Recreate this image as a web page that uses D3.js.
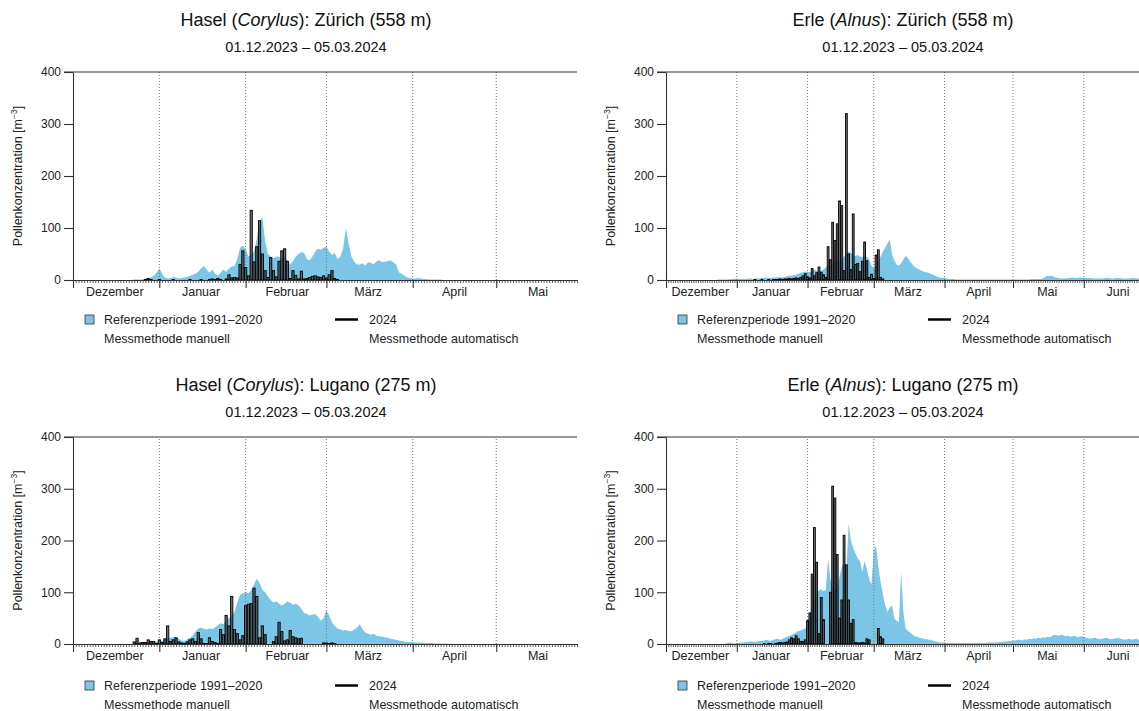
<!DOCTYPE html>
<html>
<head>
<meta charset="utf-8">
<script src="https://cdn.jsdelivr.net/npm/d3@7"></script>
<style>
  body { margin: 0; background: #fff; }
  svg { display: block; font-family: "Liberation Sans", Arial, sans-serif; }
</style>
</head>
<body>
<svg id="chart" width="1139" height="711"></svg>
<script>
// daily values, index 0 = 01.12.2023
const monthNames = ["Dezember", "Januar", "Februar", "März", "April", "Mai", "Juni"];
const yTicks = [0, 100, 200, 300, 400];

const haselZhRef = [
  0,0,0,0,0,0,0,0,0,0, 0,0,0,0,0,0,0,0,0,0, 0,0,1,1,1,1,2,3,5,8, 14,
  22,12,5,3,4,6,5,3,4,5, 6,8,10,12,16,22,27,20,14,20, 12,8,14,20,16,22,26,27,40,62, 66,
  60,45,48,55,80,112,120,75,50,45, 42,45,44,40,45,38,30,36,45,50, 54,52,40,38,45,55,60,58,62,
  64,55,48,52,40,45,60,100,70,45, 35,30,30,32,28,34,33,30,36,38, 34,35,36,38,34,30,15,12,8,5, 4,
  3,3,4,3,2,2,1,1,1,1, 1,0,0,0,0,0,0,0,0,0, 0,0,0,0,0,0,0,0,0,0,
  0,0,0,0,0,0,0,0,0,0, 0,0,0,0,0,0,0,0,0,0, 0,0,0,0,0,0,0,0,0,0
];
const haselZhBars = [
  0,0,0,0,0,0,0,0,0,0, 0,0,0,0,0,0,0,0,0,0, 0,0,0,0,0,0,1,3,1,0, 0,
  1,0,0,0,0,1,0,0,0,0, 0,1,0,0,0,1,0,0,1, 2,1,3,1,0,2,10,4,5,4,30,56,
  24,8,134,35,64,114,50,18,5,43, 18,6,36,56,60,36,3,18,9,2, 17,2,3,5,7,8,6,5,8,
  4,10,18,3,1
];

const erleZhRef = [
  0,0,0,0,0,0,0,0,0,0, 0,0,0,0,0,0,0,0,0,0, 0,0,0,1,1,1,1,1,2,2, 3,
  3,2,2,2,2,3,3,2,3,3, 3,4,4,5,4,4,5,5,6,5, 5,6,7,8,8,10,10,12,14,15, 16,
  16,15,18,20,18,16,18,20,24,28, 30,32,35,38,36,40,45,50,55,52, 48,46,48,45,44,45,44,40,28,
  22,28,35,45,55,62,70,78,50,38, 30,28,32,40,46,42,35,30,25,22, 20,18,16,15,14,12,10,8,6,5, 4,
  5,3,2,2,2,1,1,1,1,1, 1,1,1,1,1,1,1,1,1,1, 1,1,1,1,1,1,1,1,1,1,
  1,1,1,1,1,1,1,1,2,2, 2,2,2,3,6,8,7,8,6,5, 4,3,3,3,4,4,5,4,4,5, 5,
  4,4,4,4,3,3,3,3,3,4, 4,4,3,3,4,4,4,3,3,3, 3,4,4,3,3,3,3,3,3,3
];
const erleZhBars = [
  0,0,0,0,0,0,0,0,0,0, 0,0,0,0,0,0,0,0,0,0, 0,0,0,0,0,0,0,0,0,0, 0,
  0,0,0,0,0,0,0,0,1,0, 0,1,0,0,1,0,1,1,1, 2,1,2,2,3,2,3,4,3,5,8,12,
  6,4,22,8,14,25,15,10,5,64, 39,111,76,108,152,143,18,320,50,20, 127,30,32,16,36,73,37,5,11,
  3,48,58,5,2
];

const haselLuRef = [
  0,0,0,0,0,0,0,0,0,0, 0,0,0,0,0,0,0,0,0,0, 0,0,0,0,1,1,1,2,2,3, 4,
  4,6,8,10,12,13,13,10,7,6, 9,12,16,24,30,32,30,28,30,29, 32,36,40,38,44,50,55,62,80,95, 98,
  100,98,104,115,126,118,105,100,92,85, 80,82,78,75,78,82,80,76,78,75, 68,60,58,55,57,58,52,45,50,
  66,55,42,35,30,28,26,27,25,24, 28,32,38,28,22,20,18,20,16,15, 14,13,12,10,9,8,7,6,5,4, 4,
  4,3,3,3,2,2,2,2,1,1, 1,1,1,0,0,0,0,0,0,0, 0,0,0,0,0,0,0,0,0,0,
  0,0,0,0,0,0,0,0,0,0, 0,0,0,0,0,0,0,0,0,0, 0,0,0,0,0,0,0,0,0,0
];
const haselLuBars = [
  0,0,0,0,0,0,0,0,0,0, 0,0,0,0,0,0,0,0,0,0, 0,0,4,11,2,3,3,8,5,5, 1,
  8,3,10,35,5,8,12,4,2,1, 4,8,10,5,22,10,1,1,12,5, 3,1,28,18,55,35,92,28,20,8, 16,
  74,77,78,108,92,12,35,18,0,0, 5,14,42,24,6,8,26,14,12,10, 11,0,0,0,0,0,0,0,2,
  2,1,2,1,0
];

const erleLuRef = [
  0,0,0,0,0,0,0,0,0,0, 0,0,0,0,0,0,0,0,0,0, 0,0,0,0,0,0,1,2,3,2, 1,
  2,2,3,3,4,4,5,5,4,5, 6,6,7,8,7,6,8,9,10,8, 10,12,14,16,18,20,22,25,26,28, 30,
  40,55,70,85,100,104,106,102,105,165, 125,110,106,105,130,150,158,140,232,200, 185,175,165,160,140,160,145,125,115,
  180,190,150,120,95,75,62,70,75,50, 45,42,138,60,30,25,22,18,15,14, 12,11,10,9,8,8,6,5,4,3, 3,
  3,2,2,2,2,2,2,2,2,2, 2,2,2,2,2,2,2,2,2,3, 3,3,3,3,4,4,5,5,6,6,
  6,7,8,8,7,9,8,10,9,11, 10,12,11,13,12,14,13,15,18,17, 16,18,17,15,16,14,15,16,13,14, 15,
  14,12,11,10,11,12,10,9,10,11, 12,10,9,10,11,12,10,9,8,9, 10,8,9,10,8,7,8,9,8,7
];
const erleLuBars = [
  0,0,0,0,0,0,0,0,0,0, 0,0,0,0,0,0,0,0,0,0, 0,0,0,0,0,0,0,0,0,0, 0,
  0,0,0,0,0,0,0,0,0,0, 0,0,1,0,1,1,0,1, 2,3,2,3,4,8,12,10,16,10,5,5,8,
  45,60,135,225,158,20,90,47,0,0, 100,305,282,173,50,85,210,153,85,40, 47,3,2,2,3,2,10,8,0,
  0,0,30,14,10
];

const svg = d3.select("#chart");
const start = new Date(Date.UTC(2023, 11, 1));
const day = i => d3.utcDay.offset(start, i);
const refColor = "#7bc6e6";

const panels = [
  {left: 73, right: 577, top: 72, zero: 280, nDays: 181, titleX: 306, titleY: 26, subY: 52, legendY: 324,
   species: "Hasel", latin: "Corylus", station: "Zürich (558 m)", ref: haselZhRef, bars: haselZhBars},
  {left: 666, right: 1150, top: 72, zero: 280, nDays: 212, titleX: 903, titleY: 26, subY: 52, legendY: 324,
   species: "Erle", latin: "Alnus", station: "Zürich (558 m)", ref: erleZhRef, bars: erleZhBars},
  {left: 73, right: 577, top: 437, zero: 644, nDays: 181, titleX: 306, titleY: 391, subY: 417, legendY: 690,
   species: "Hasel", latin: "Corylus", station: "Lugano (275 m)", ref: haselLuRef, bars: haselLuBars},
  {left: 666, right: 1150, top: 437, zero: 644, nDays: 212, titleX: 903, titleY: 391, subY: 417, legendY: 690,
   species: "Erle", latin: "Alnus", station: "Lugano (275 m)", ref: erleLuRef, bars: erleLuBars}
];

function drawPanel(p) {
  const x = d3.scaleUtc().domain([start, day(p.nDays)]).range([p.left, p.right]);
  const y = d3.scaleLinear().domain([0, 400]).range([p.zero, p.top]);
  const dayW = x(day(1)) - x(day(0));
  const g = svg.append("g");

  const t = g.append("text")
    .attr("x", p.titleX).attr("y", p.titleY)
    .attr("text-anchor", "middle").attr("font-size", 18).attr("fill", "#111");
  t.append("tspan").text(p.species + " (");
  t.append("tspan").attr("font-style", "italic").text(p.latin);
  t.append("tspan").text("): " + p.station);

  g.append("text")
    .attr("x", p.titleX).attr("y", p.subY)
    .attr("text-anchor", "middle").attr("font-size", 14.5).attr("fill", "#111")
    .text("01.12.2023 – 05.03.2024");

  // Referenzperiode
  g.append("path")
    .datum(p.ref)
    .attr("fill", refColor)
    .attr("d", d3.area()
      .x((d, i) => x(day(i)))
      .y0(y(0))
      .y1(d => y(d)));

  // month separators
  const months = d3.utcMonth.range(day(1), day(p.nDays));
  g.append("g")
    .selectAll("line")
    .data(months)
    .join("line")
    .attr("x1", d => x(d)).attr("x2", d => x(d))
    .attr("y1", y(0)).attr("y2", y(400))
    .attr("stroke", "#777")
    .attr("stroke-width", 1)
    .attr("stroke-dasharray", "1,2");

  // 2024 bars
  g.append("g")
    .selectAll("rect")
    .data(p.bars.map((v, i) => ({v, i})).filter(d => d.v > 0))
    .join("rect")
    .attr("x", d => x(day(d.i)) - dayW * 0.4)
    .attr("width", dayW * 0.8)
    .attr("y", d => y(d.v))
    .attr("height", d => y(0) - y(d.v))
    .attr("fill", "#4a4a4a")
    .attr("fill-opacity", 0.8)
    .attr("stroke", "#000")
    .attr("stroke-width", 0.9);

  // y axis
  const ya = g.append("g")
    .attr("transform", `translate(${p.left},0)`)
    .call(d3.axisLeft(y).tickValues(yTicks).tickSize(9).tickSizeOuter(0).tickPadding(3));
  ya.selectAll("text").attr("font-size", 12).attr("font-family", "Liberation Sans, Arial, sans-serif").attr("fill", "#222");
  ya.selectAll("line, path").attr("stroke", "#333").attr("stroke-width", 1.1);

  g.append("line")
    .attr("x1", p.left - 9).attr("x2", p.right)
    .attr("y1", y(400)).attr("y2", y(400))
    .attr("stroke", "#333").attr("stroke-width", 1.1);

  // x axis: day ticks and month ticks
  const xd = g.append("g")
    .attr("transform", `translate(0,${p.zero})`)
    .call(d3.axisBottom(x).ticks(d3.utcDay.every(1)).tickSize(3).tickSizeOuter(0).tickFormat(""));
  xd.selectAll("line, path").attr("stroke", "#333").attr("stroke-width", 0.8);
  const xm = g.append("g")
    .attr("transform", `translate(0,${p.zero})`)
    .call(d3.axisBottom(x).ticks(d3.utcMonth.every(1)).tickSize(8).tickSizeOuter(0).tickFormat(""));
  xm.selectAll("line, path").attr("stroke", "#333").attr("stroke-width", 1.1);

  g.append("g")
    .selectAll("text")
    .data(d3.utcMonth.range(start, day(p.nDays)))
    .join("text")
    .attr("x", d => x(d3.utcDay.offset(d, 15)))
    .attr("y", p.zero + 15.5)
    .attr("text-anchor", "middle")
    .attr("font-size", 12.5)
    .attr("fill", "#222")
    .text((d, i) => monthNames[i]);

  // y title
  const yt = g.append("text")
    .attr("transform", `translate(${p.left - 51},${(p.top + p.zero) / 2}) rotate(-90)`)
    .attr("text-anchor", "middle")
    .attr("font-size", 12.5)
    .attr("fill", "#222");
  yt.append("tspan").text("Pollenkonzentration [m");
  yt.append("tspan").attr("dy", -5).attr("font-size", 8.5).text("−3");
  yt.append("tspan").attr("dy", 5).text("]");

  // legend
  const L = p.left, ly = p.legendY;
  g.append("rect")
    .attr("x", L + 12).attr("y", ly - 9).attr("width", 9).attr("height", 9)
    .attr("fill", refColor).attr("stroke", "#333").attr("stroke-width", 0.8);
  g.append("line")
    .attr("x1", L + 262).attr("x2", L + 285)
    .attr("y1", ly - 4.5).attr("y2", ly - 4.5)
    .attr("stroke", "#000").attr("stroke-width", 2.5);
  const legTexts = [
    [L + 31, ly, "Referenzperiode 1991–2020"],
    [L + 31, ly + 18.5, "Messmethode manuell"],
    [L + 296, ly, "2024"],
    [L + 296, ly + 18.5, "Messmethode automatisch"]
  ];
  g.append("g")
    .selectAll("text")
    .data(legTexts)
    .join("text")
    .attr("x", d => d[0]).attr("y", d => d[1])
    .attr("font-size", 12.5)
    .attr("fill", "#222")
    .text(d => d[2]);
}

panels.forEach(drawPanel);
</script>
</body>
</html>
